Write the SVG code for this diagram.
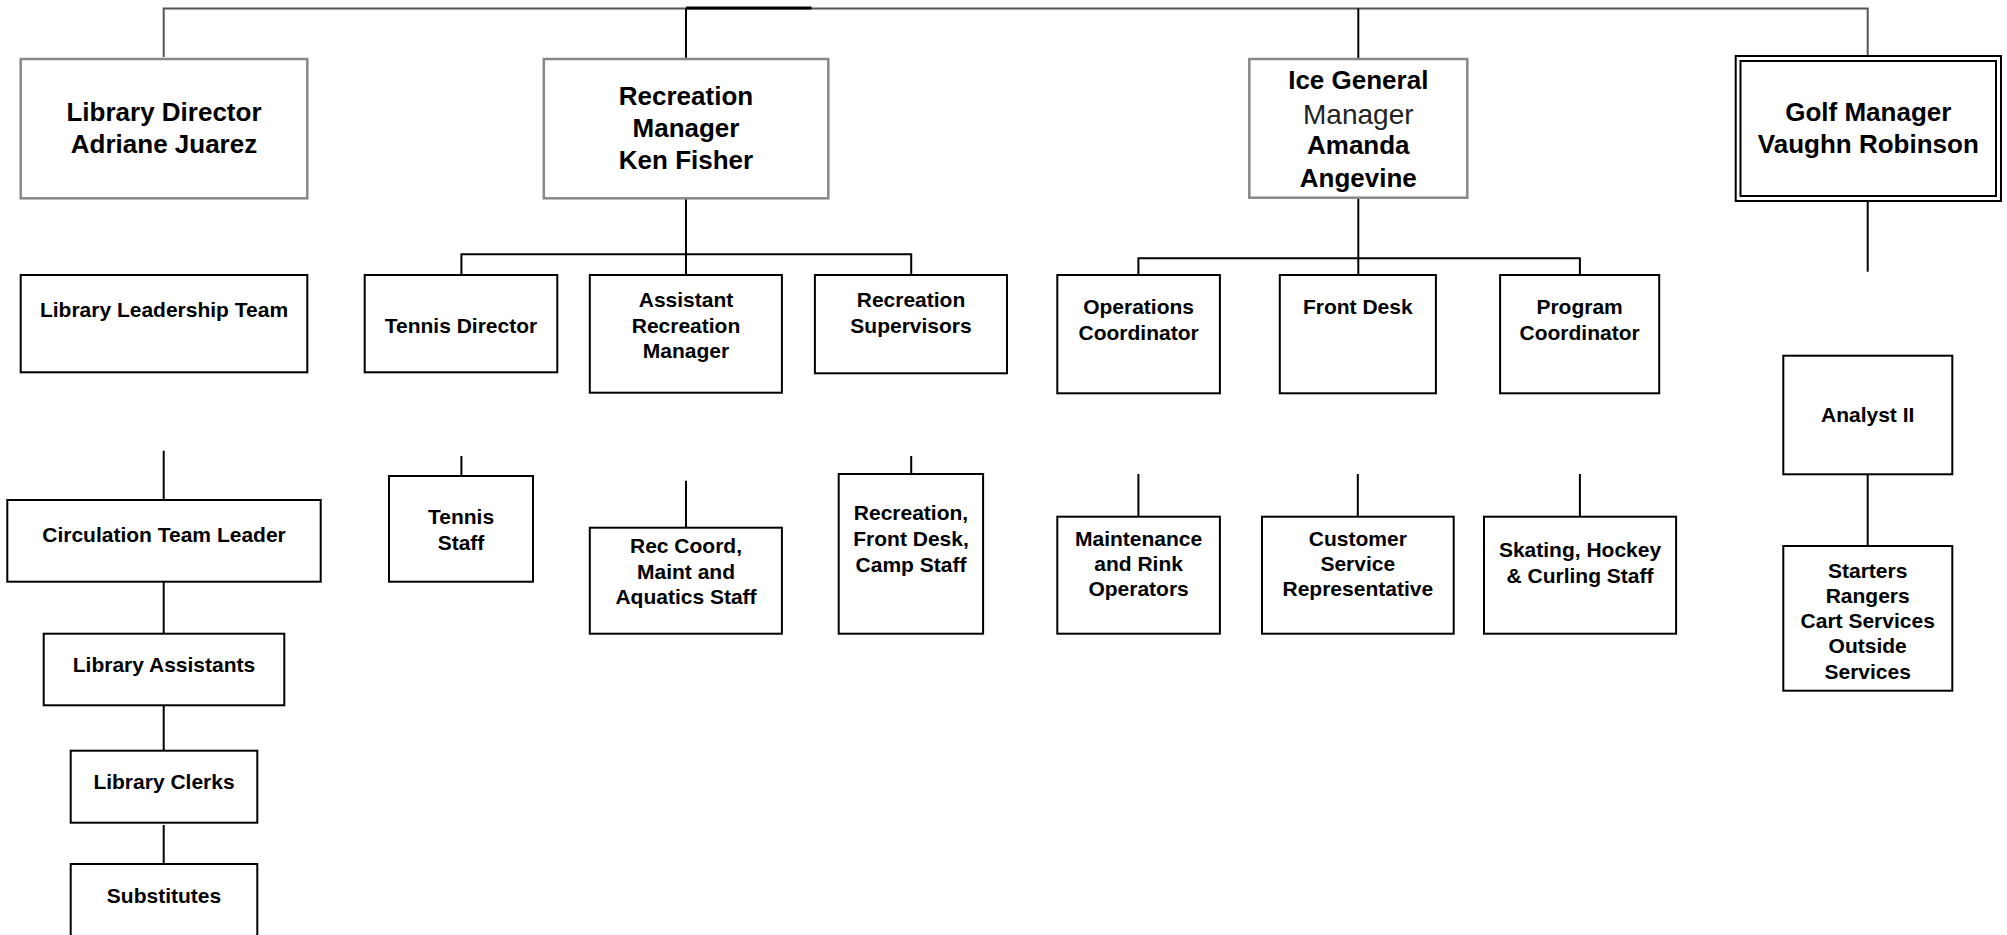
<svg xmlns="http://www.w3.org/2000/svg" width="2007" height="935" viewBox="0 0 2007 935">
  <style>
    .box { fill: #fff; stroke: #000; stroke-width: 2; }
    .head { fill: #fff; stroke: #888; stroke-width: 2.5; }
    .link { fill: none; stroke: #000; stroke-width: 2; }
    .rail { fill: none; stroke: #555; stroke-width: 2; }
    text { font-family: "Liberation Sans", Arial, sans-serif; font-weight: bold; fill: #000; text-anchor: middle; }
    .big { font-size: 26px; }
    .sm { font-size: 21px; }
    .thin { font-weight: normal; font-size: 28px; fill: #222; }
  </style>
  <rect width="2007" height="935" fill="#fff"/>

  <!-- reporting lines -->
  <g id="connectors">
    <polyline class="rail" points="163.7,57 163.7,8.5 1867.7,8.5 1867.7,56"/>
    <line class="link" x1="686" y1="8" x2="811.5" y2="8" style="stroke-width:3"/>
    <line class="link" x1="686" y1="8.5" x2="686" y2="59"/>
    <line class="link" x1="1358.3" y1="8.5" x2="1358.3" y2="59"/>

    <!-- library chain -->
    <line class="link" x1="163.7" y1="450.7" x2="163.7" y2="500"/>
    <line class="link" x1="163.7" y1="581.7" x2="163.7" y2="633.7"/>
    <line class="link" x1="163.7" y1="705.3" x2="163.7" y2="750.7"/>
    <line class="link" x1="163.7" y1="825" x2="163.7" y2="864"/>

    <!-- recreation -->
    <line class="link" x1="686" y1="198" x2="686" y2="277"/>
    <polyline class="link" points="461.4,277 461.4,254.3 911.2,254.3 911.2,277"/>
    <line class="link" x1="461.4" y1="456" x2="461.4" y2="478"/>
    <line class="link" x1="686" y1="480.7" x2="686" y2="527.7"/>
    <line class="link" x1="911.2" y1="456" x2="911.2" y2="476"/>

    <!-- ice -->
    <line class="link" x1="1358.3" y1="198" x2="1358.3" y2="275"/>
    <polyline class="link" points="1138.4,275 1138.4,258.3 1579.9,258.3 1579.9,275"/>
    <line class="link" x1="1138.4" y1="474" x2="1138.4" y2="516.7"/>
    <line class="link" x1="1357.8" y1="474" x2="1357.8" y2="516.7"/>
    <line class="link" x1="1579.9" y1="474" x2="1579.9" y2="516.7"/>

    <!-- golf -->
    <line class="link" x1="1867.7" y1="201" x2="1867.7" y2="271.7"/>
    <line class="link" x1="1867.7" y1="474.3" x2="1867.7" y2="546"/>
  </g>

  <!-- library -->
  <g id="library-director">
    <rect class="head" x="20.7" y="59" width="286.6" height="139.3"/>
    <text class="big" x="164" y="120.7">Library Director</text>
    <text class="big" x="164" y="153.3">Adriane Juarez</text>
  </g>
  <g id="library-leadership">
    <rect class="box" x="20.7" y="275" width="286.6" height="97.3"/>
    <text class="sm" x="164" y="316.7">Library Leadership Team</text>
  </g>
  <g id="circulation-leader">
    <rect class="box" x="7.3" y="500" width="313.4" height="81.7"/>
    <text class="sm" x="164" y="542.3">Circulation Team Leader</text>
  </g>
  <g id="library-assistants">
    <rect class="box" x="43.7" y="633.7" width="240.6" height="71.6"/>
    <text class="sm" x="164" y="672.3">Library Assistants</text>
  </g>
  <g id="library-clerks">
    <rect class="box" x="70.7" y="750.7" width="186.6" height="72"/>
    <text class="sm" x="164" y="789.3">Library Clerks</text>
  </g>
  <g id="substitutes">
    <rect class="box" x="70.7" y="864" width="186.6" height="100"/>
    <text class="sm" x="164" y="902.7">Substitutes</text>
  </g>

  <!-- recreation -->
  <g id="recreation-manager">
    <rect class="head" x="543.8" y="59" width="284.5" height="139.3"/>
    <text class="big" x="686" y="105.3">Recreation</text>
    <text class="big" x="686" y="137.3">Manager</text>
    <text class="big" x="686" y="169.3">Ken Fisher</text>
  </g>
  <g id="tennis-director">
    <rect class="box" x="364.7" y="275" width="192.6" height="97.3"/>
    <text class="sm" x="461" y="333.3">Tennis Director</text>
  </g>
  <g id="assistant-recreation-manager">
    <rect class="box" x="589.8" y="275" width="192.1" height="117.7"/>
    <text class="sm" x="686" y="307.3">Assistant</text>
    <text class="sm" x="686" y="332.7">Recreation</text>
    <text class="sm" x="686" y="358.3">Manager</text>
  </g>
  <g id="recreation-supervisors">
    <rect class="box" x="814.9" y="275" width="192.1" height="98.3"/>
    <text class="sm" x="911" y="307.3">Recreation</text>
    <text class="sm" x="911" y="333.3">Supervisors</text>
  </g>
  <g id="tennis-staff">
    <rect class="box" x="389" y="476" width="144" height="105.7"/>
    <text class="sm" x="461" y="524.3">Tennis</text>
    <text class="sm" x="461" y="550">Staff</text>
  </g>
  <g id="rec-coord-staff">
    <rect class="box" x="589.8" y="527.7" width="192.1" height="106"/>
    <text class="sm" x="686" y="553.3">Rec Coord,</text>
    <text class="sm" x="686" y="579.3">Maint and</text>
    <text class="sm" x="686" y="604.3">Aquatics Staff</text>
  </g>
  <g id="recreation-staff">
    <rect class="box" x="838.7" y="474" width="144.4" height="159.7"/>
    <text class="sm" x="911" y="520">Recreation,</text>
    <text class="sm" x="911" y="546">Front Desk,</text>
    <text class="sm" x="911" y="571.7">Camp Staff</text>
  </g>

  <!-- ice -->
  <g id="ice-general-manager">
    <rect class="head" x="1249.3" y="59" width="218" height="138.7"/>
    <text class="big" x="1358.3" y="89.3">Ice General</text>
    <text class="thin" x="1358.3" y="124">Manager</text>
    <text class="big" x="1358.3" y="154.3">Amanda</text>
    <text class="big" x="1358.3" y="186.7">Angevine</text>
  </g>
  <g id="operations-coordinator">
    <rect class="box" x="1057.3" y="275" width="162.6" height="118.3"/>
    <text class="sm" x="1138.6" y="314.3">Operations</text>
    <text class="sm" x="1138.6" y="340">Coordinator</text>
  </g>
  <g id="front-desk">
    <rect class="box" x="1279.8" y="275" width="156.1" height="118.3"/>
    <text class="sm" x="1357.8" y="314.3">Front Desk</text>
  </g>
  <g id="program-coordinator">
    <rect class="box" x="1500.1" y="275" width="159.1" height="118.3"/>
    <text class="sm" x="1579.6" y="314.3">Program</text>
    <text class="sm" x="1579.6" y="340">Coordinator</text>
  </g>
  <g id="maintenance-operators">
    <rect class="box" x="1057.3" y="516.7" width="162.6" height="117"/>
    <text class="sm" x="1138.6" y="546">Maintenance</text>
    <text class="sm" x="1138.6" y="571">and Rink</text>
    <text class="sm" x="1138.6" y="596">Operators</text>
  </g>
  <g id="customer-service">
    <rect class="box" x="1262" y="516.7" width="191.7" height="117"/>
    <text class="sm" x="1357.8" y="546">Customer</text>
    <text class="sm" x="1357.8" y="571">Service</text>
    <text class="sm" x="1357.8" y="596">Representative</text>
  </g>
  <g id="skating-staff">
    <rect class="box" x="1484" y="516.7" width="192.1" height="117"/>
    <text class="sm" x="1580" y="557.3">Skating, Hockey</text>
    <text class="sm" x="1580" y="583.3">&amp; Curling Staff</text>
  </g>

  <!-- golf -->
  <g id="golf-manager">
    <rect class="box" x="1735.7" y="56" width="265.3" height="145"/>
    <rect class="box" x="1740.5" y="61" width="255.5" height="135"/>
    <text class="big" x="1868.3" y="120.7">Golf Manager</text>
    <text class="big" x="1868.3" y="153.3">Vaughn Robinson</text>
  </g>
  <g id="analyst">
    <rect class="box" x="1783.3" y="355.7" width="169" height="118.6"/>
    <text class="sm" x="1867.7" y="421.7">Analyst II</text>
  </g>
  <g id="golf-staff">
    <rect class="box" x="1783.3" y="546" width="169" height="144.7"/>
    <text class="sm" x="1867.7" y="577.7">Starters</text>
    <text class="sm" x="1867.7" y="602.7">Rangers</text>
    <text class="sm" x="1867.7" y="628.3">Cart Services</text>
    <text class="sm" x="1867.7" y="653.3">Outside</text>
    <text class="sm" x="1867.7" y="679.3">Services</text>
  </g>
</svg>
